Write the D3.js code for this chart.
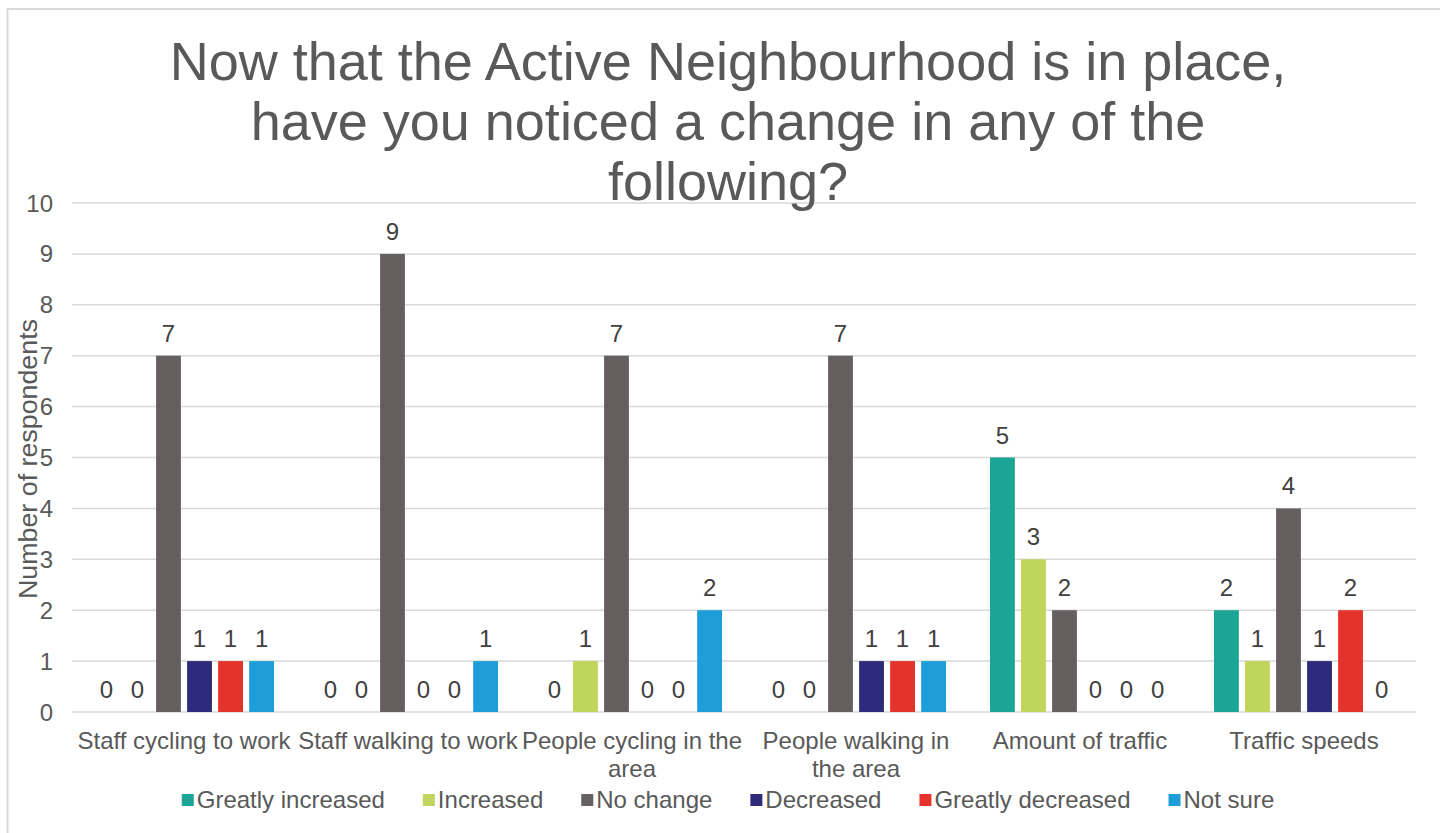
<!DOCTYPE html>
<html>
<head>
<meta charset="utf-8">
<script src="https://cdn.jsdelivr.net/npm/d3@7"></script>
<style>
  body { margin: 0; background: #fff; }
  svg text { font-family: "Liberation Sans", Arial, sans-serif; fill: #595959; }
</style>
</head>
<body>
<svg id="chart" width="1440" height="833"></svg>
<script>
// chart data
var categories = ["Staff cycling to work", "Staff walking to work", "People cycling in the area",
                  "People walking in the area", "Amount of traffic", "Traffic speeds"];
var seriesNames = ["Greatly increased", "Increased", "No change", "Decreased", "Greatly decreased", "Not sure"];
var greatlyIncreased = [0, 0, 0, 0, 5, 2];
var increased        = [0, 0, 1, 0, 3, 1];
var noChange         = [7, 9, 7, 7, 2, 4];
var decreased        = [1, 0, 0, 1, 0, 1];
var greatlyDecreased = [1, 0, 0, 1, 0, 2];
var notSure          = [1, 1, 2, 1, 0, 0];
var yTicks = [0, 1, 2, 3, 4, 5, 6, 7, 8, 9, 10];
var titleLines = ["Now that the Active Neighbourhood is in place,",
                  "have you noticed a change in any of the",
                  "following?"];

var seriesValues = [greatlyIncreased, increased, noChange, decreased, greatlyDecreased, notSure];
var colors = ["#1ba597", "#c0d55b", "#646060", "#2e2a7c", "#e5322a", "#1e9ed9"];

var svg = d3.select("#chart");

// outer chart border (runs off the right/bottom of the picture)
svg.append("rect")
    .attr("x", 7.5).attr("y", 9)
    .attr("width", 1460).attr("height", 860)
    .attr("fill", "none")
    .attr("stroke", "#d9d9d9")
    .attr("stroke-width", 2);

var plotLeft = 72, plotRight = 1416, plotTop = 203, plotBottom = 712;

var x0 = d3.scaleBand().domain(categories).range([plotLeft, plotRight]);
var x1 = d3.scaleBand().domain(seriesNames)
    .range([22, x0.bandwidth() - 22])
    .paddingInner(0.2);
var y = d3.scaleLinear().domain([0, 10]).range([plotBottom, plotTop]);

// gridlines
svg.append("g").selectAll("line")
    .data(yTicks)
    .enter()
    .append("line")
    .attr("x1", plotLeft).attr("x2", plotRight)
    .attr("y1", d => y(d)).attr("y2", d => y(d))
    .attr("stroke", "#d9d9d9")
    .attr("stroke-width", 1.5);

// y tick labels
svg.append("g").selectAll("text")
    .data(yTicks)
    .enter()
    .append("text")
    .attr("x", 53)
    .attr("y", d => y(d) + 8.5)
    .attr("text-anchor", "end")
    .attr("font-size", 24)
    .text(d => d);

// y axis title
svg.append("text")
    .attr("transform", "translate(37,459) rotate(-90)")
    .attr("text-anchor", "middle")
    .attr("font-size", 25)
    .attr("textLength", 280)
    .attr("lengthAdjust", "spacingAndGlyphs")
    .text("Number of respondents");

// bars
var groups = svg.append("g").selectAll("g")
    .data(categories)
    .enter()
    .append("g")
    .attr("transform", d => "translate(" + x0(d) + ",0)");

groups.each(function(cat, ci) {
    var g = d3.select(this);
    var rows = seriesNames.map((s, si) => ({ s: s, v: seriesValues[si][ci], c: colors[si] }));
    g.selectAll("rect")
        .data(rows)
        .enter()
        .append("rect")
        .attr("x", d => x1(d.s))
        .attr("y", d => y(d.v))
        .attr("width", x1.bandwidth())
        .attr("height", d => y(0) - y(d.v))
        .attr("fill", d => d.c);
    g.selectAll("text")
        .data(rows)
        .enter()
        .append("text")
        .attr("x", d => x1(d.s) + x1.bandwidth() / 2)
        .attr("y", d => y(d.v) - 14)
        .attr("text-anchor", "middle")
        .attr("font-size", 24)
        .style("fill", "#404040")
        .text(d => d.v);
});

// category labels, wrapped to the band width
function wrapLines(textSel, label, maxW) {
    var words = label.split(" ");
    var lines = [];
    var cur = "";
    words.forEach(function(w) {
        var test = cur ? cur + " " + w : w;
        textSel.text(test);
        if (textSel.node().getComputedTextLength() > maxW && cur) {
            lines.push(cur);
            cur = w;
        } else {
            cur = test;
        }
    });
    lines.push(cur);
    return lines;
}

categories.forEach(function(cat) {
    var t = svg.append("text")
        .attr("x", x0(cat) + x0.bandwidth() / 2)
        .attr("y", 749)
        .attr("text-anchor", "middle")
        .attr("font-size", 24);
    var lines = wrapLines(t, cat, x0.bandwidth());
    t.text(null);
    lines.forEach(function(l, i) {
        t.append("tspan")
            .attr("x", x0(cat) + x0.bandwidth() / 2)
            .attr("dy", i == 0 ? 0 : 28)
            .text(l);
    });
});

// title
svg.append("g").selectAll("text")
    .data(titleLines)
    .enter()
    .append("text")
    .attr("x", 728)
    .attr("y", (d, i) => 80 + i * 60)
    .attr("text-anchor", "middle")
    .attr("font-size", 54)
    .text(d => d);

// legend, centred under the chart
var legend = svg.append("g");
var lx = 0;
seriesNames.forEach(function(s, i) {
    legend.append("rect")
        .attr("x", lx).attr("y", 794)
        .attr("width", 12).attr("height", 12)
        .attr("fill", colors[i]);
    var t = legend.append("text")
        .attr("x", lx + 15)
        .attr("y", 808)
        .attr("font-size", 24)
        .text(s);
    lx += 15 + t.node().getComputedTextLength();
    if (i < seriesNames.length - 1) lx += 38;
});
legend.attr("transform", "translate(" + (728 - lx / 2) + ",0)");
</script>
</body>
</html>
